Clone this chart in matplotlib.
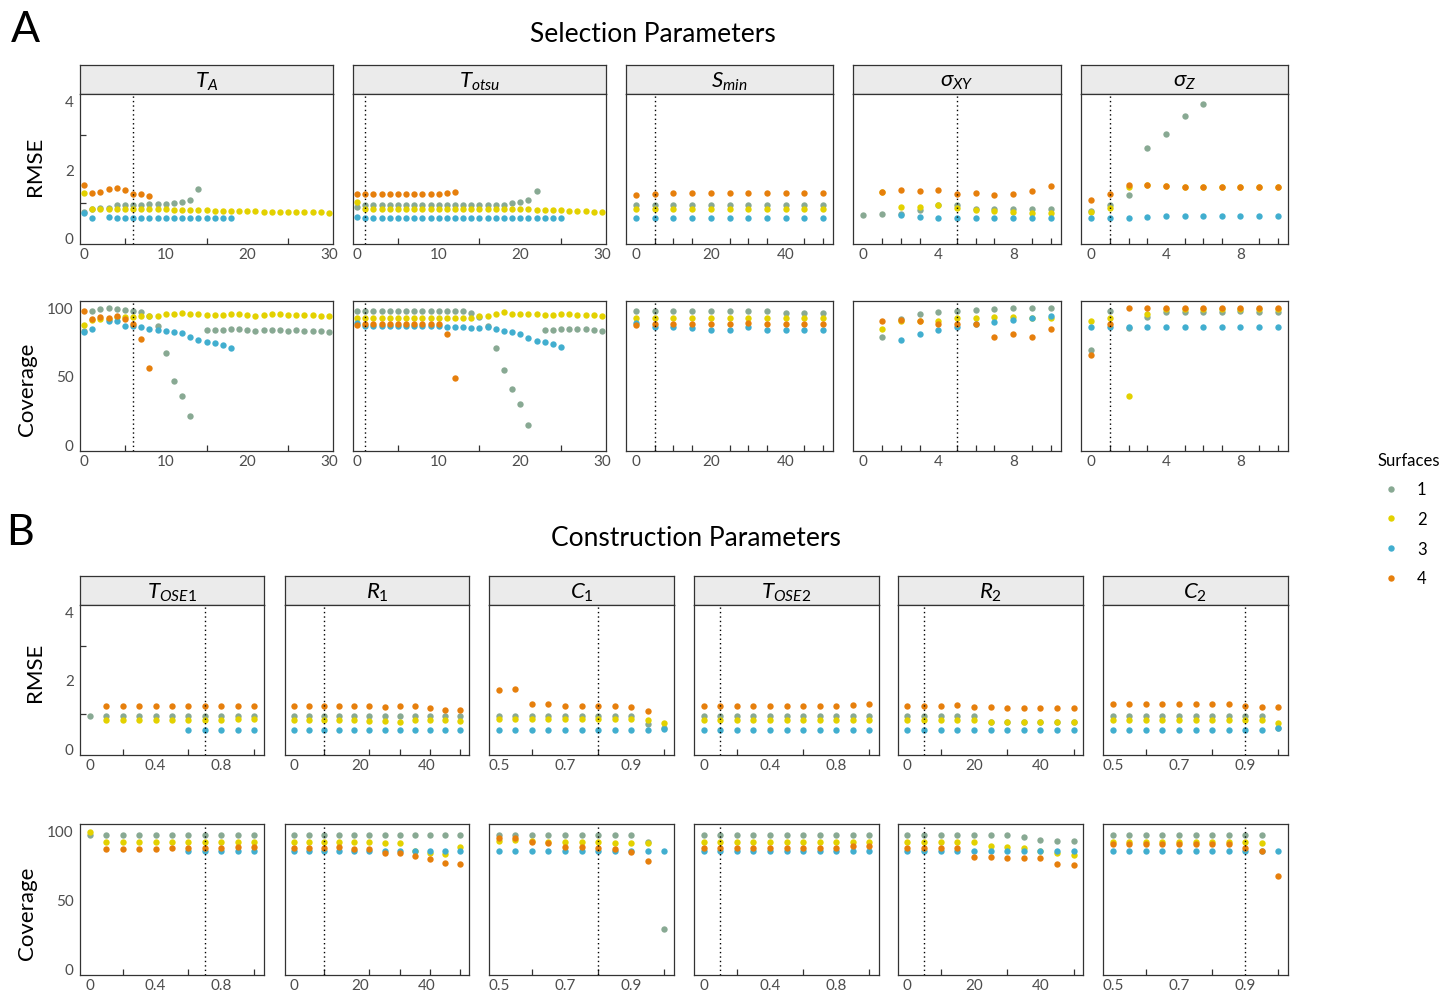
import numpy as np
import matplotlib
matplotlib.use("Agg")
import matplotlib.pyplot as plt
from matplotlib.lines import Line2D

plt.rcParams["font.family"] = ["Lato", "DejaVu Sans"]
plt.rcParams["mathtext.fontset"] = "custom"
plt.rcParams["mathtext.rm"] = "Lato"
plt.rcParams["mathtext.it"] = "Lato:italic"
plt.rcParams["mathtext.bf"] = "Lato:bold"
plt.rcParams["mathtext.fallback"] = "stixsans"

nan = np.nan
SURFACES = ["1", "2", "3", "4"]
COLORS = {"1": "#88A993", "2": "#E3D100", "3": "#41AECF", "4": "#E67F0C"}

# ---------------- Selection parameters ----------------
ta_x = list(range(31))
ta_rmse = {
    "1": [0.75, 0.83, 0.85, 0.86, 0.95, 0.95, 0.95, 0.95, 0.96, 0.98, 0.97, 1.00, 1.02, 1.08, 1.40]
         + [nan] * 16,
    "2": [1.30, 0.84, 0.84, 0.84, 0.84, 0.84, 0.84, 0.83, 0.83, 0.82, 0.82, 0.81, 0.81, 0.80, 0.80,
          0.79, 0.78, 0.77, 0.77, 0.76, 0.76, 0.76, 0.75, 0.75, 0.75, 0.74, 0.74, 0.73, 0.73, 0.73, 0.72],
    "3": [0.70, 0.57, nan, 0.585, 0.575, 0.56, 0.55, 0.55, 0.55, 0.55, 0.55, 0.55, 0.55, 0.55, 0.55,
          0.55, 0.55, 0.55, 0.55] + [nan] * 12,
    "4": [1.54, 1.31, 1.32, 1.40, 1.43, 1.38, 1.27, 1.28, 1.22] + [nan] * 22,
}
ta_cov = {
    "1": [83.0, 98.0, 99.0, 100.0, 99.0, 98.5, 97.8, 97.0, 94.0, 87.0, 67.2, 46.0, 35.2, 20.4, nan,
          84.0, 84.0, 84.0, 84.5, 84.5, 84.0, 83.0, 84.0, 84.0, 84.0, 83.0, 83.5, 83.0, 83.0, 83.0, 82.5],
    "2": [87.7, 91.0, 91.9, 92.0, 93.0, 93.0, 93.5, 94.0, 94.3, 94.0, 95.3, 95.8, 96.0, 95.8, 95.3,
          95.0, 95.0, 95.0, 95.5, 95.5, 95.0, 94.3, 95.0, 95.2, 95.2, 94.8, 94.8, 94.8, 94.5, 94.3, 94.1],
    "3": [82.0, 84.4, nan, 90.6, 90.1, 87.0, 86.5, 85.7, 84.5, 84.0, 83.3, 82.5, 81.5, 78.3, 76.6,
          75.1, 73.9, 72.7, 70.2] + [nan] * 12,
    "4": [97.5, 91.9, 93.1, 92.6, 93.8, 91.9, 88.2, 77.1, 56.0] + [nan] * 22,
}

totsu_x = list(range(31))
totsu_rmse = {
    "1": [0.90] + [0.95] * 18 + [1.00, 1.03, 1.10, 1.35] + [nan] * 8,
    "2": [1.04] + [0.84] * 19 + [0.83, 0.82, 0.81, 0.80, 0.81, 0.80, 0.77, 0.76, 0.76, 0.75, 0.75],
    "3": [0.60] + [0.55] * 25 + [nan] * 5,
    "4": [1.27] * 11 + [1.29, 1.32] + [nan] * 18,
}
totsu_cov = {
    "1": [98.0] * 14 + [96.4, 93.0, 86.5, 70.7, 54.4, 40.4, 29.8, 14.3, nan,
                        84.0, 84.0, 84.5, 84.5, 84.5, 84.3, 83.5, 83.3],
    "2": [92.9] * 15 + [93.9, 94.3, 95.3, 97.3, 95.8, 95.8, 95.6, 95.3, 94.8, 94.8, 95.3, 95.3,
                        95.0, 95.0, 94.8, 94.3],
    "3": [88.7] + [86.5] * 10 + [86.3, 86.3, 85.8, 85.5, 85.2, 85.7, 84.2, 83.0, 82.5, 80.5, 77.6,
                                 75.9, 74.6, 73.4, 71.4] + [nan] * 5,
    "4": [87.7] + [88.4] * 10 + [80.8, 48.5] + [nan] * 18,
}

smin_x = [0, 5, 10, 15, 20, 25, 30, 35, 40, 45, 50]
smin_rmse = {
    "1": [0.95] * 11,
    "2": [0.84, 0.84, 0.83, 0.83, 0.83, 0.83, 0.84, 0.83, 0.83, 0.84, 0.84],
    "3": [0.55] * 11,
    "4": [1.25, 1.27, 1.29, 1.29, 1.29, 1.29, 1.29, 1.29, 1.29, 1.29, 1.29],
}
smin_cov = {
    "1": [98.0, 98.0, 97.8, 97.8, 97.8, 97.8, 97.6, 97.4, 96.3, 96.3, 96.3],
    "2": [92.9] * 11,
    "3": [88.7, 86.2, 85.7, 85.2, 83.7, 83.7, 86.0, 83.5, 83.5, 83.5, 83.5],
    "4": [87.4, 87.9, 88.4, 88.4, 88.4, 88.4, 88.6, 88.4, 88.4, 88.4, 88.4],
}

sxy_x = list(range(11))
sxy_rmse = {
    "1": [0.66, 0.68, 0.67, 0.81, 0.93, 0.95, 0.83, 0.84, 0.83, 0.83, 0.83],
    "2": [nan, 1.32, 0.90, 0.89, 0.95, 0.86, 0.80, 0.76, 0.74, 0.72, 0.71],
    "3": [nan, nan, 0.66, 0.60, 0.57, 0.55, 0.55, 0.55, 0.55, 0.55, 0.55],
    "4": [nan, 1.32, 1.38, 1.36, 1.38, 1.26, 1.30, 1.24, 1.28, 1.35, 1.51],
}
sxy_cov = {
    "1": [nan, 78.3, 91.5, 95.6, 96.8, 97.8, 98.5, 99.3, 99.8, 100.0, 100.2],
    "2": [nan, 84.5, 90.6, 90.4, 90.1, 92.4, 92.6, 93.3, 93.3, 92.6, 92.4],
    "3": [nan, nan, 76.6, 80.8, 84.0, 86.2, 87.9, 89.7, 91.1, 92.6, 93.8],
    "4": [nan, 90.6, 91.4, 90.1, 88.2, 88.2, 87.9, 78.6, 80.8, 78.6, 84.7],
}

sz_x = list(range(11))
sz_rmse = {
    "1": [0.78, 0.95, 1.24, 2.63, 3.02, 3.56, 3.92, nan, nan, nan, nan],
    "2": [0.73, 0.85, 1.46, 1.52, 1.49, 1.48, 1.47, 1.47, 1.46, 1.46, 1.46],
    "3": [0.55, 0.55, 0.57, 0.60, 0.61, 0.62, 0.63, 0.63, 0.63, 0.63, 0.63],
    "4": [1.10, 1.27, 1.54, 1.52, 1.49, 1.48, 1.47, 1.47, 1.46, 1.46, 1.46],
}
sz_cov = {
    "1": [69.0, 97.5, 85.0, 93.1, 96.8, 97.3, 96.8, 97.3, 97.5, 97.3, 96.8],
    "2": [90.4, 92.4, 35.2, 95.6, 98.8, 98.8, 99.0, 99.0, 99.3, 99.3, 99.3],
    "3": [86.0] * 11,
    "4": [65.5, 88.2, 99.8, 100.0, 100.0, 100.0, 100.0, 100.0, 100.0, 100.0, 100.0],
}

# ---------------- Construction parameters ----------------
tose1_x = [0.0, 0.1, 0.2, 0.3, 0.4, 0.5, 0.6, 0.7, 0.8, 0.9, 1.0]
tose1_rmse = {
    "1": [0.93] * 11,
    "2": [nan, 0.84, 0.84, 0.84, 0.84, 0.84, 0.84, 0.84, 0.84, 0.85, 0.87],
    "3": [nan] * 6 + [0.54] * 5,
    "4": [nan] + [1.25] * 10,
}
tose1_cov = {
    "1": [97.1] * 11,
    "2": [99.5] + [91.7] * 10,
    "3": [nan] * 6 + [85.4] * 5,
    "4": [nan, 86.9, 86.9, 86.9, 86.9, 87.4, 87.4, 87.4, 87.4, 88.6, 88.6],
}

r1_x = [0, 4.5, 9.1, 13.6, 18.2, 22.7, 27.3, 31.8, 36.4, 40.9, 45.5, 50]
r1_rmse = {
    "1": [0.93] * 12,
    "2": [0.82, 0.82, 0.83, 0.83, 0.83, 0.81, 0.79, 0.78, 0.84, 0.83, 0.83, 0.81],
    "3": [0.54] * 12,
    "4": [1.25, 1.25, 1.25, 1.25, 1.24, 1.24, 1.22, 1.24, 1.23, 1.18, 1.13, 1.13],
}
r1_cov = {
    "1": [97.1] * 12,
    "2": [91.7, 91.7, 91.7, 91.7, 91.7, 91.7, 91.2, 91.0, 85.0, 84.0, 83.5, 87.9],
    "3": [85.4] * 12,
    "4": [87.4, 87.4, 87.4, 88.1, 87.1, 86.9, 83.9, 83.9, 82.0, 79.6, 76.7, 76.2],
}

c1_x = [0.5, 0.55, 0.6, 0.65, 0.7, 0.75, 0.8, 0.85, 0.9, 0.95, 1.0]
c1_rmse = {
    "1": [0.93] * 9 + [0.71, 0.58],
    "2": [0.87] * 9 + [0.82, 0.75],
    "3": [0.54] * 10 + [0.56],
    "4": [1.72, 1.73, 1.31, 1.29, 1.23, 1.23, 1.23, 1.23, 1.21, 1.09, nan],
}
c1_cov = {
    "1": [97.1] * 9 + [92.0, 28.6],
    "2": [92.7, 93.2, 92.7, 91.7, 92.2, 92.2, 92.2, 91.5, 91.5, 91.5, nan],
    "3": [85.4] * 11,
    "4": [95.1, 94.7, 92.2, 90.8, 88.6, 88.6, 87.4, 86.9, 84.5, 78.4, nan],
}

tose2_x = [0.0, 0.1, 0.2, 0.3, 0.4, 0.5, 0.6, 0.7, 0.8, 0.9, 1.0]
tose2_rmse = {
    "1": [0.93] * 11,
    "2": [0.84] * 11,
    "3": [0.54] * 11,
    "4": [1.25] * 9 + [1.28, 1.29],
}
tose2_cov = {
    "1": [97.1] * 11,
    "2": [91.7] * 11,
    "3": [85.4] * 11,
    "4": [87.4] * 9 + [89.3, 89.3],
}

r2_x = [0, 5, 10, 15, 20, 25, 30, 35, 40, 45, 50]
r2_rmse = {
    "1": [0.93] * 5 + [0.78] * 6,
    "2": [0.84] * 5 + [0.77, 0.76, 0.77, 0.76, 0.77, 0.77],
    "3": [0.54] * 11,
    "4": [1.25, 1.25, 1.25, 1.26, 1.20, 1.20, 1.19, 1.19, 1.19, 1.19, 1.19],
}
r2_cov = {
    "1": [97.1] * 7 + [95.6, 93.7, 92.7, 92.7],
    "2": [91.7] * 5 + [88.8, 88.3, 87.4, 85.4, 83.9, 82.5],
    "3": [85.4] * 7 + [85.0] * 4,
    "4": [87.4, 87.4, 87.4, 87.4, 81.1, 80.6, 80.1, 79.9, 79.9, 75.7, 75.2],
}

c2_x = [0.5, 0.55, 0.6, 0.65, 0.7, 0.75, 0.8, 0.85, 0.9, 0.95, 1.0]
c2_rmse = {
    "1": [0.93] * 10 + [0.58],
    "2": [0.84] * 10 + [0.75],
    "3": [0.54] * 10 + [0.60],
    "4": [1.29] * 8 + [1.23, 1.22, 1.22],
}
c2_cov = {
    "1": [97.1] * 10 + [nan],
    "2": [91.7] * 9 + [91.3, nan],
    "3": [85.4] * 11,
    "4": [90.3] * 8 + [87.4, 85.0, 67.2],
}

# default (chosen) value of each parameter, drawn as a dotted line
defaults = {"ta": 6, "totsu": 1, "smin": 5, "sxy": 5, "sz": 1,
            "tose1": 0.7, "r1": 9.1, "c1": 0.8, "tose2": 0.1, "r2": 5, "c2": 0.9}

# ---------------- layout ----------------
W, H = 1440, 995
fig = plt.figure(figsize=(W / 100, H / 100), dpi=100)
fig.patch.set_facecolor("white")

EDGE = "#333333"
TICKC = "#4D4D4D"


def px_axes(l, t, r, b):
    return fig.add_axes([l / W, 1 - b / H, (r - l) / W, (b - t) / H])


def fmt(v):
    return f"{v:g}"


def style_axes(ax, xlim, ylim, xmarks, xlabels, ymarks, ylabels, show_y):
    ax.set_xlim(*xlim)
    ax.set_ylim(*ylim)
    for sp in ax.spines.values():
        sp.set_color(EDGE)
        sp.set_linewidth(0.9)
    ax.set_xticks(xlabels)
    ax.set_xticklabels([fmt(v) for v in xlabels])
    ax.set_xticks(xmarks, minor=True)
    ax.tick_params(axis="x", which="major", length=0, pad=2.5, labelsize=11, labelcolor=TICKC)
    ax.tick_params(axis="x", which="minor", length=4, width=0.9, direction="in", color=EDGE)
    if show_y:
        ax.set_yticks(ylabels)
        ax.set_yticklabels([fmt(v) for v in ylabels])
        ax.set_yticks(ymarks, minor=True)
        ax.tick_params(axis="y", which="major", length=0, pad=4.5, labelsize=11, labelcolor=TICKC)
        ax.tick_params(axis="y", which="minor", length=4, width=0.9, direction="in", color=EDGE)
    else:
        ax.set_yticks([])
        ax.set_yticks([], minor=True)


def draw_points(ax, x, series, vline):
    for s in SURFACES:
        ax.scatter(x, np.asarray(series[s], dtype=float), s=21, color=COLORS[s],
                   linewidths=0, zorder=3)
    ax.axvline(vline, color="black", lw=1.0, ls=(0, (1, 2.2)), zorder=4)


def strip(l, t, r, b, label):
    sa = px_axes(l, t, r, b)
    sa.set_facecolor("#EBEBEB")
    sa.set_xticks([])
    sa.set_yticks([])
    for sp in sa.spines.values():
        sp.set_color(EDGE)
        sp.set_linewidth(0.9)
    sa.text(0.5, 0.45, label, transform=sa.transAxes, ha="center", va="center",
            fontsize=16, color="black")


RMSE_LIM = (-0.2, 4.2)
COV_LIM = (-5, 105)
RMSE_MARKS, RMSE_LABS = [0, 1, 2, 3, 4], [0, 2, 4]
COV_MARKS, COV_LABS = [0, 50, 100], [0, 50, 100]

top_panels = [
    ("ta", r"$T_A$", ta_x, ta_rmse, ta_cov, (-0.5, 30.5), list(range(0, 31, 5)), [0, 10, 20, 30], (80, 333)),
    ("totsu", r"$T_{otsu}$", totsu_x, totsu_rmse, totsu_cov, (-0.5, 30.5), list(range(0, 31, 5)), [0, 10, 20, 30], (353, 606)),
    ("smin", r"$S_{min}$", smin_x, smin_rmse, smin_cov, (-2.7, 52.7), list(range(0, 51, 5)), [0, 20, 40], (626, 833)),
    ("sxy", r"$\sigma_{XY}$", sxy_x, sxy_rmse, sxy_cov, (-0.55, 10.55), list(range(11)), [0, 4, 8], (853, 1061)),
    ("sz", r"$\sigma_{Z}$", sz_x, sz_rmse, sz_cov, (-0.55, 10.55), list(range(11)), [0, 4, 8], (1081, 1288)),
]

bottom_panels = [
    ("tose1", r"$T_{OSE1}$", tose1_x, tose1_rmse, tose1_cov, (-0.06, 1.06), [0, 0.2, 0.4, 0.6, 0.8, 1.0], [0, 0.4, 0.8], (80, 264)),
    ("r1", r"$R_{1}$", r1_x, r1_rmse, r1_cov, (-2.7, 52.7), [0, 9.1, 22.7, 31.8, 40.9, 50], [0, 20, 40], (285, 469)),
    ("c1", r"$C_{1}$", c1_x, c1_rmse, c1_cov, (0.47, 1.03), [0.5, 0.6, 0.7, 0.8, 0.9, 1.0], [0.5, 0.7, 0.9], (489, 674)),
    ("tose2", r"$T_{OSE2}$", tose2_x, tose2_rmse, tose2_cov, (-0.06, 1.06), [0, 0.2, 0.4, 0.6, 0.8, 1.0], [0, 0.4, 0.8], (694, 879)),
    ("r2", r"$R_{2}$", r2_x, r2_rmse, r2_cov, (-2.8, 52.8), [0, 10, 20, 30, 40, 50], [0, 20, 40], (898, 1083)),
    ("c2", r"$C_{2}$", c2_x, c2_rmse, c2_cov, (0.47, 1.03), [0.5, 0.6, 0.7, 0.8, 0.9, 1.0], [0.5, 0.7, 0.9], (1103, 1288)),
]


def draw_block(panels, strip_tb, rmse_tb, cov_tb):
    for i, (key, label, x, rmse, cov, xlim, marks, labs, (l, r)) in enumerate(panels):
        strip(l, strip_tb[0], r, strip_tb[1], label)
        ax1 = px_axes(l, rmse_tb[0], r, rmse_tb[1])
        draw_points(ax1, x, rmse, defaults[key])
        style_axes(ax1, xlim, RMSE_LIM, marks, labs, RMSE_MARKS, RMSE_LABS, i == 0)
        ax2 = px_axes(l, cov_tb[0], r, cov_tb[1])
        draw_points(ax2, x, cov, defaults[key])
        style_axes(ax2, xlim, COV_LIM, marks, labs, COV_MARKS, COV_LABS, i == 0)


draw_block(top_panels, (66, 95), (95, 245), (302, 452))
draw_block(bottom_panels, (577, 606), (606, 756), (825, 976))

# titles and row labels
fig.text(25 / W, 1 - 30 / H, "A", fontsize=31, ha="center", va="center")
fig.text(653 / W, 1 - 34 / H, "Selection Parameters", fontsize=19, ha="center", va="center")
fig.text(20 / W, 1 - 533 / H, "B", fontsize=31, ha="center", va="center")
fig.text(696 / W, 1 - 539 / H, "Construction Parameters", fontsize=19, ha="center", va="center")

fig.text(35 / W, 1 - 166 / H, "RMSE", fontsize=16, rotation=90, ha="center", va="center")
fig.text(27 / W, 1 - 389 / H, "Coverage", fontsize=16, rotation=90, ha="center", va="center")
fig.text(35 / W, 1 - 672 / H, "RMSE", fontsize=16, rotation=90, ha="center", va="center")
fig.text(27 / W, 1 - 913 / H, "Coverage", fontsize=16, rotation=90, ha="center", va="center")

# legend
handles = [Line2D([], [], ls="none", marker="o", markersize=4.6, markeredgewidth=0,
                  markerfacecolor=COLORS[s]) for s in SURFACES]
leg = fig.legend(handles, SURFACES, title="Surfaces", loc="upper left",
                 bbox_to_anchor=(1366 / W, 1 - 441 / H), frameon=False, fontsize=12,
                 title_fontsize=12, labelspacing=0.82, handlelength=1.6,
                 handletextpad=0.75, borderpad=0.2, alignment="left")

fig.savefig("out.png", dpi=100, facecolor="white")
